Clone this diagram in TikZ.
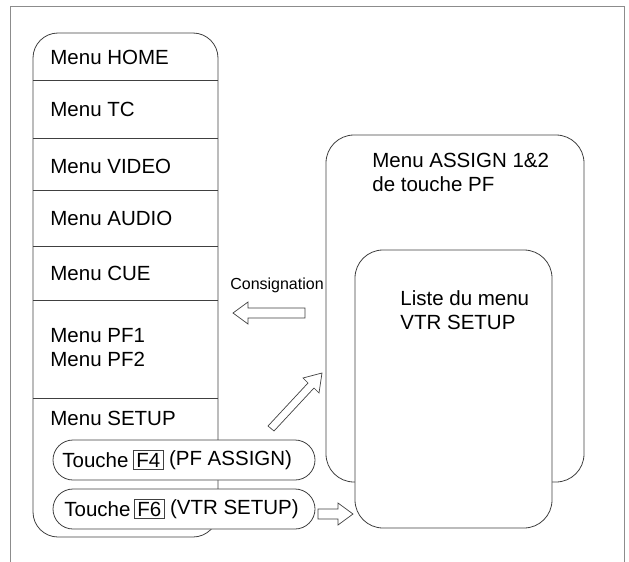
\documentclass[tikz,border=0pt]{standalone}
\usepackage{fontspec}
\setmainfont{Liberation Sans}
\usetikzlibrary{positioning}
\begin{document}
\begin{tikzpicture}[x=1pt,y=-1pt,line width=0.8pt,draw=black!75,
	lbl/.style={font=\fontsize{20.5}{24}\selectfont,anchor=west,inner sep=0pt,align=left},
	key/.style={draw,inner xsep=3pt,inner ysep=2.5pt,font=\fontsize{20.5}{24}\selectfont},
	pill/.style={draw,fill=white,rounded corners=20pt},
	hollow/.style={draw,fill=white,line width=0.7pt}]
	\useasboundingbox (0,0) rectangle (629,562);
	
	% frame
	\draw[black!45] (10,562) -- (10,6) -- (624,6) -- (624,562);
	
	% left column
	\draw[rounded corners=25pt] (33,33) rectangle (218,537);
	\foreach \y in {80,138,190,246,300,398}
	{
		\draw (33,\y) -- (218,\y);
	}
	\node[lbl] (home) at (50,57) {Menu HOME};
	\node[lbl] (tc) at (50,109) {Menu TC};
	\node[lbl] (video) at (50,166) {Menu VIDEO};
	\node[lbl] (audio) at (50,218) {Menu AUDIO};
	\node[lbl] (cue) at (50,273) {Menu CUE};
	\node[lbl] (pf) at (50,348) {Menu PF1\\Menu PF2};
	\node[lbl] (setup) at (50,418) {Menu SETUP};
	
	% right boxes
	\draw[rounded corners=28pt] (326,135) rectangle (584,482);
	\draw[fill=white,rounded corners=28pt] (355,250) rectangle (552,528);
	\node[lbl] (assign) at (372,172) {Menu ASSIGN 1\&2\\de touche PF};
	\node[lbl] (vtr) at (400,310) {Liste du menu\\VTR SETUP};
	
	% keys
	\draw[pill] (53,440) rectangle (315,480);
	\draw[pill] (53,489) rectangle (315,529);
	\node[lbl] (t4) at (62,460) {Touche};
	\node[key,right=4pt of t4] (f4) {F4};
	\node[lbl,right=5pt of f4] (pfa) {(PF ASSIGN)};
	\node[lbl] (t6) at (64,509) {Touche};
	\node[key,right=3pt of t6] (f6) {F6};
	\node[lbl,right=5pt of f6] (vtrs) {(VTR SETUP)};
	
	% hollow arrows
	\node[font=\fontsize{16}{19}\selectfont,inner sep=0pt] (cons) at (277,285) {Consignation};
	\draw[hollow] (233,313) -- (248,302) -- (248,308) -- (305,308) -- (305,318) -- (248,318) -- (248,324) -- cycle;
	\draw[hollow] (322,373) -- (319,393) -- (314,388) -- (274,431) -- (268,426) -- (308,383) -- (303,378) -- cycle;
	\draw[hollow] (353,514) -- (338,503) -- (338,509) -- (318,509) -- (318,519) -- (338,519) -- (338,525) -- cycle;
\end{tikzpicture}
\end{document}
